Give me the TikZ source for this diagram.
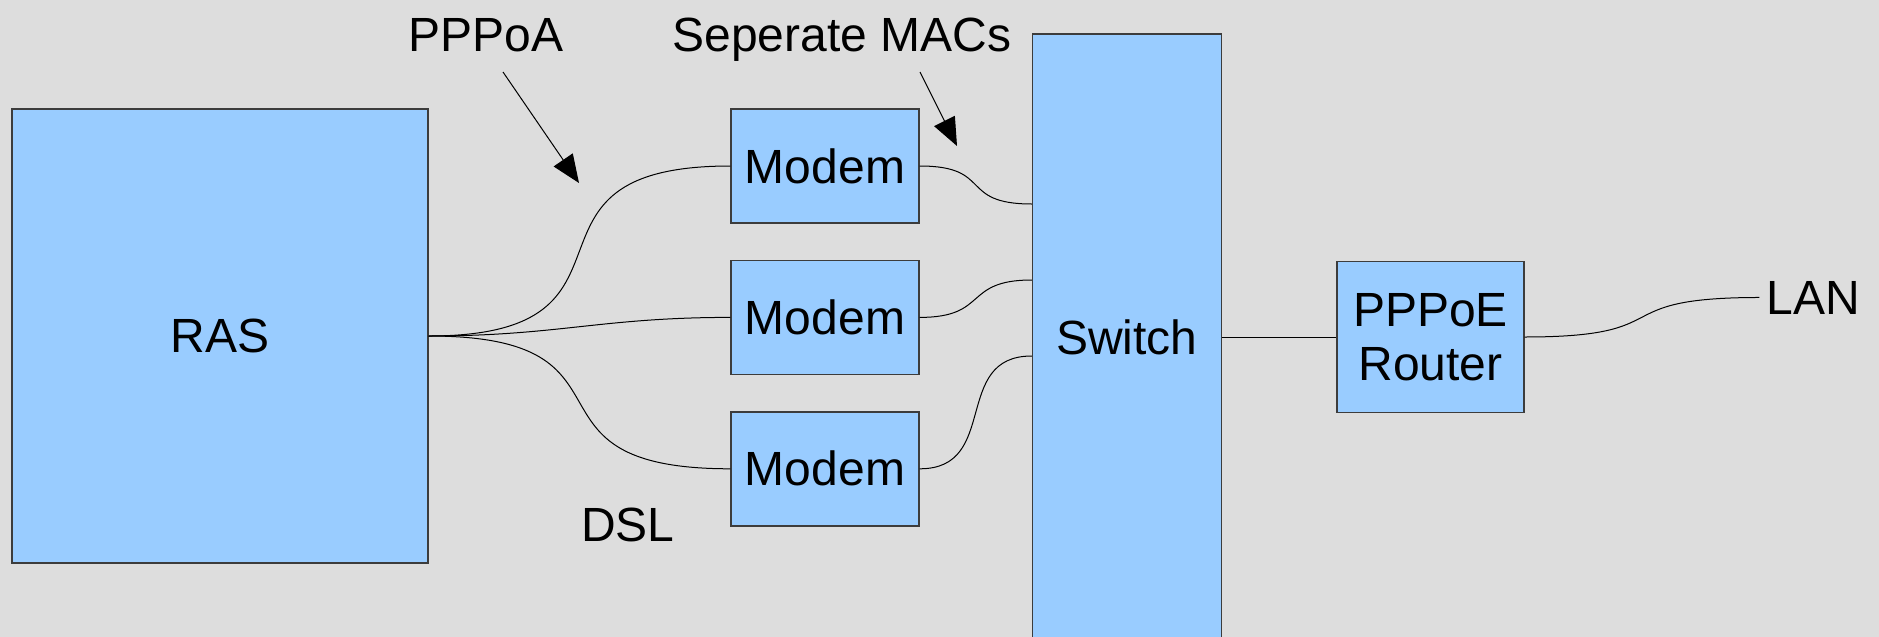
\documentclass[tikz,border=0pt]{standalone}
\usepackage{fontspec}
\setmainfont{Liberation Sans}
\usepackage{tikz}
\usetikzlibrary{arrows.meta, positioning}
\definecolor{boxblue}{RGB}{153,204,255}
\definecolor{canvas}{RGB}{221,221,221}
\definecolor{edge}{RGB}{60,60,60}

\begin{document}
\begin{tikzpicture}[x=0.5pt, y=-0.5pt,
  every node/.style={font=\fontsize{24}{27}\selectfont},
  unit/.style={draw=edge, fill=boxblue, line width=0.7pt, align=center, inner sep=0pt},
  wire/.style={line width=0.5pt},
  pointer/.style={line width=0.5pt, -{Triangle[length=14pt, width=11.5pt]}},
  note/.style={anchor=base}]
  \useasboundingbox (0,0) rectangle (1879,637);
  \fill[canvas] (0,0) rectangle (1879,637);
  \clip (0,0) rectangle (1879,637);

  % boxes
  \node[unit, minimum width=208pt, minimum height=227pt] (ras) at (220,336) {RAS};
  \node[unit, minimum width=94pt, minimum height=57pt] (modem1) at (825,166) {Modem};
  \node[unit, minimum width=94pt, minimum height=57pt, below=18pt of modem1] (modem2) {Modem};
  \node[unit, minimum width=94pt, minimum height=57pt, below=18pt of modem2] (modem3) {Modem};
  \node[unit, minimum width=94.5pt, minimum height=303pt] (switch) at (1127,337) {Switch};
  \node[unit, minimum width=93.5pt, minimum height=75.5pt, right=57pt of switch] (router) {PPPoE\\Router};

  % labels
  \node[note] (pppoa) at (486,51.5) {PPPoA};
  \node[note] (macs) at (842,51.5) {Seperate MACs};
  \node[note] (dsl) at (628,541.6) {DSL};
  \node[note] (lan) at (1813,314) {LAN};

  % switch ports
  \coordinate (port1) at ([yshift=66.5pt]switch.west);
  \coordinate (port2) at ([yshift=28.5pt]switch.west);
  \coordinate (port3) at ([yshift=-9.5pt]switch.west);

  % DSL lines
  \foreach \m/\l in {1/1.75, 2/1.1, 3/1.75} {
    \draw[wire] (ras.east) to[out=0, in=180, looseness=\l] (modem\m.west);
  }
  % ethernet side
  \foreach \m/\l in {1/1.6, 2/1.5, 3/1.3} {
    \draw[wire] (modem\m.east) to[out=0, in=180, looseness=\l] (port\m);
  }
  \draw[wire] (switch.east) -- (router.west);
  \draw[wire] (router.east) to[out=0, in=180, looseness=1.7] (lan.west);

  % arrows
  \coordinate (pppoa tail) at (503,72);
  \coordinate (pppoa tip) at (579,183);
  \coordinate (macs tail) at (920,72);
  \coordinate (macs tip) at (957,146);
  \draw[pointer] (pppoa tail) -- (pppoa tip);
  \draw[pointer] (macs tail) -- (macs tip);
\end{tikzpicture}
\end{document}
